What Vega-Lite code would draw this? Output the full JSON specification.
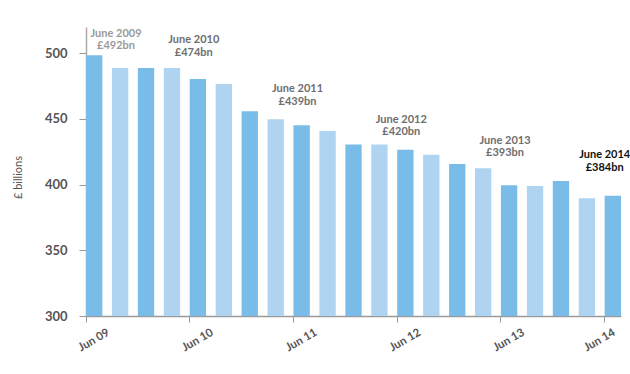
{
  "$schema": "https://vega.github.io/schema/vega-lite/v6.json",
  "width": 535,
  "height": 289,
  "autosize": {"type": "none"},
  "padding": {"left": 86, "top": 27, "right": 9, "bottom": 58},
  "background": "white",
  "config": {"view": {"stroke": null}, "font": "Lato"},
  "datasets": {
    "notes": [
      {"q": "Sep 09", "y": 515, "year": 2009, "label": ["June 2009", "£492bn"]},
      {"q": "Jun 10", "y": 510, "year": 2010, "label": ["June 2010", "£474bn"]},
      {"q": "Jun 11", "y": 472.6, "year": 2011, "label": ["June 2011", "£439bn"]},
      {"q": "Jun 12", "y": 449.4, "year": 2012, "label": ["June 2012", "£420bn"]},
      {"q": "Jun 13", "y": 433.5, "year": 2013, "label": ["June 2013", "£393bn"]},
      {"q": "Jun 14", "y": 422.4, "year": 2014, "label": ["June 2014", "£384bn"]}
    ]
  },
  "layer": [
    {
      "data": {
        "values": [
          {"q": "Jun 09", "debt": 498.5},
          {"q": "Sep 09", "debt": 488.8},
          {"q": "Dec 09", "debt": 488.8},
          {"q": "Mar 10", "debt": 488.8},
          {"q": "Jun 10", "debt": 480.5},
          {"q": "Sep 10", "debt": 476.7},
          {"q": "Dec 10", "debt": 455.9},
          {"q": "Mar 11", "debt": 449.8},
          {"q": "Jun 11", "debt": 445.2},
          {"q": "Sep 11", "debt": 440.9},
          {"q": "Dec 11", "debt": 430.5},
          {"q": "Mar 12", "debt": 430.5},
          {"q": "Jun 12", "debt": 426.5},
          {"q": "Sep 12", "debt": 422.7},
          {"q": "Dec 12", "debt": 415.8},
          {"q": "Mar 13", "debt": 412.5},
          {"q": "Jun 13", "debt": 399.6},
          {"q": "Sep 13", "debt": 398.9},
          {"q": "Dec 13", "debt": 402.7},
          {"q": "Mar 14", "debt": 389.7},
          {"q": "Jun 14", "debt": 391.5}
        ]
      },
      "transform": [
        {"calculate": "test(/^(Jun|Dec)/, datum.q) ? 'a' : 'b'", "as": "shade"}
      ],
      "mark": {"type": "bar"},
      "encoding": {
        "x": {
          "field": "q",
          "type": "ordinal",
          "scale": {
            "domain": ["Jun 09","Sep 09","Dec 09","Mar 10","Jun 10","Sep 10","Dec 10","Mar 11","Jun 11","Sep 11","Dec 11","Mar 12","Jun 12","Sep 12","Dec 12","Mar 13","Jun 13","Sep 13","Dec 13","Mar 14","Jun 14"],
            "paddingInner": 0.37,
            "paddingOuter": 0
          },
          "axis": {
            "title": null,
            "values": ["Jun 09","Jun 10","Jun 11","Jun 12","Jun 13","Jun 14"],
            "bandPosition": 0,
            "domainColor": "#9a9a9a",
            "domainWidth": 1.5,
            "tickColor": "#9a9a9a",
            "tickSize": 6,
            "labelAngle": -30,
            "labelAlign": "center",
            "labelBaseline": "middle",
            "labelPadding": 18,
            "labelOffset": {"condition": {"test": "datum.value == 'Jun 14'", "value": -13}, "value": 0},
            "labelBound": false,
            "labelFontSize": 11.5,
            "labelFontWeight": "bold",
            "labelColor": "#555555"
          }
        },
        "y": {
          "field": "debt",
          "type": "quantitative",
          "scale": {"domain": [300, 520], "nice": false, "zero": false},
          "axis": {
            "values": [300, 350, 400, 450, 500],
            "grid": false,
            "title": "£ billions",
            "titleFontSize": 11,
            "titleFontWeight": "normal",
            "titleColor": "#555555",
            "titleX": -68,
            "titleY": 150,
            "titleAngle": -90,
            "titleAlign": "center",
            "titleBaseline": "middle",
            "domainColor": "#aaaaaa",
            "domainWidth": 1.5,
            "tickColor": "#9a9a9a",
            "tickSize": 7,
            "labelPadding": 12,
            "labelFontSize": 13,
            "labelFontWeight": "bold",
            "labelColor": "#555555"
          }
        },
        "y2": {"datum": 300},
        "color": {
          "field": "shade",
          "type": "nominal",
          "scale": {"domain": ["a", "b"], "range": ["#79bce8", "#aed4f1"]},
          "legend": null
        }
      }
    },
    {
      "data": {"name": "notes"},
      "transform": [{"filter": "datum.year < 2014"}],
      "mark": {"type": "text", "fontSize": 11, "fontWeight": "bold", "lineHeight": 12.5, "align": "center", "baseline": "middle"},
      "encoding": {
        "x": {"field": "q", "type": "ordinal", "bandPosition": 0.25},
        "y": {"field": "y", "type": "quantitative"},
        "text": {"field": "label"},
        "color": {
          "condition": {"test": "datum.year == 2009", "value": "#9a9a9a"},
          "value": "#6e6e6e"
        }
      }
    },
    {
      "data": {"name": "notes"},
      "transform": [{"filter": "datum.year == 2014"}],
      "mark": {"type": "text", "fontSize": 11, "fontWeight": "bold", "lineHeight": 12.5, "align": "center", "baseline": "middle", "color": "#111111"},
      "encoding": {
        "x": {"field": "q", "type": "ordinal", "bandPosition": 0},
        "y": {"field": "y", "type": "quantitative"},
        "text": {"field": "label"}
      }
    }
  ]
}
